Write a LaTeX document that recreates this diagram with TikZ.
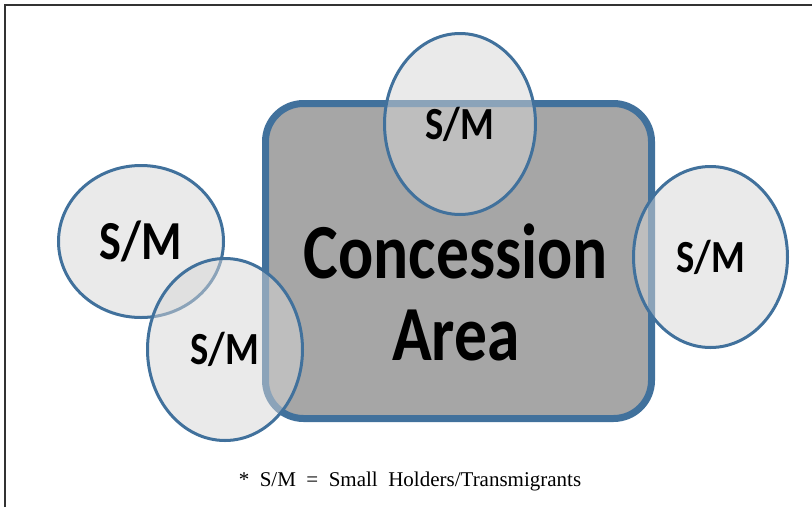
\documentclass[tikz,border=0pt]{standalone}
\usepackage{fontspec}
\usepackage{tikz}
\usetikzlibrary{shapes.geometric}
\setmainfont{Liberation Serif}
\newfontfamily\smfont[FakeStretch=0.84]{Carlito}

\definecolor{smblue}{RGB}{65,113,156}
\definecolor{areagray}{RGB}{166,166,166}
\definecolor{smgray}{RGB}{214,214,214}
\definecolor{framegray}{RGB}{50,50,50}

\tikzset{
  frameline/.style={draw=framegray,line width=1.5pt},
  areabox/.style={draw=smblue,fill=areagray,line width=7pt,rectangle,
    rounded corners=38pt,minimum width=386pt,minimum height=315pt},
  areatext/.style={font=\smfont\bfseries\fontsize{78}{82}\selectfont,inner sep=0pt},
  smcircle/.style={ellipse,draw=smblue,line width=3pt,fill=smgray,
    fill opacity=0.5,text opacity=1,inner sep=0pt,
    font=\smfont\bfseries\fontsize{46}{50}\selectfont},
  notetext/.style={font=\fontsize{21}{24}\selectfont,inner sep=0pt}
}

\begin{document}
\begin{tikzpicture}[x=1pt,y=-1pt]
        \useasboundingbox (0,0) rectangle (812,507);

        % frame of the figure
        \coordinate (F1) at (5,507);
        \coordinate (F2) at (5,5);
        \coordinate (F3) at (812,5);
        \draw[frameline] (F1)--(F2)--(F3);

        % concession area
        \node[areabox] (CA) at (458.5,261) {};
        \node[areatext,anchor=base] (CAa) at (456,278) {Concession};
        \node[areatext,anchor=base] (CAb) at (456,360) {Area};

        % small holders around it
        \node[smcircle,minimum width=151pt,minimum height=181pt] (SMtop) at (460,124) {S/M};
        \node[smcircle,minimum width=154pt,minimum height=181pt] (SMright) at (710.5,257) {S/M};
        \node[smcircle,minimum width=165pt,minimum height=152pt,
              font=\smfont\bfseries\fontsize{55}{60}\selectfont] (SMleft) at (141,241.5) {S/M};
        \node[smcircle,minimum width=155pt,minimum height=182pt] (SMlow) at (225,349.5) {S/M};

        % note
        \node[notetext,anchor=base] (note) at (410,486)
             {*\ \ S/M\ \ =\ \ Small\ \ Holders/Transmigrants};
\end{tikzpicture}
\end{document}
